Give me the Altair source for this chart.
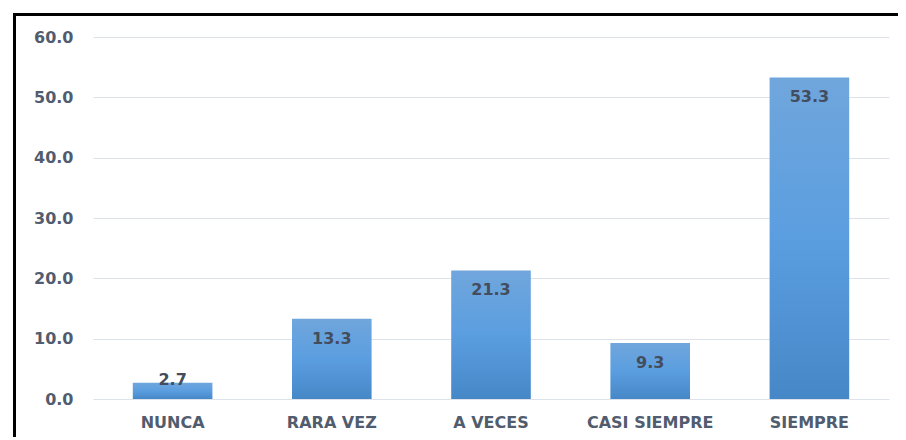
import altair as alt
import pandas as pd

categories = ["NUNCA", "RARA VEZ", "A VECES", "CASI SIEMPRE", "SIEMPRE"]
values = [2.7, 13.3, 21.3, 9.3, 53.3]
y_ticks = [0, 10, 20, 30, 40, 50, 60]

df = pd.DataFrame({"cat": categories, "v": values})

FONT = "DejaVu Sans"
AXIS_COLOR = "#515C6E"

gradient = alt.Gradient(
    gradient="linear",
    stops=[
        alt.GradientStop(color="#70A6DC", offset=0),
        alt.GradientStop(color="#5B9EE0", offset=0.5),
        alt.GradientStop(color="#4687C7", offset=1),
    ],
    x1=0, x2=0, y1=0, y2=1,
)

x = alt.X(
    "cat:N",
    sort=categories,
    title=None,
    scale=alt.Scale(paddingInner=0.5, paddingOuter=0.25),
    axis=alt.Axis(
        labelAngle=0, labelFont=FONT, labelFontSize=16, labelFontWeight="bold",
        labelColor=AXIS_COLOR, labelPadding=15, ticks=False, domain=False,
        grid=False,
    ),
)
y = alt.Y(
    "v:Q",
    title=None,
    scale=alt.Scale(domain=[0, 60], nice=False),
    axis=alt.Axis(
        values=y_ticks, format=".1f", labelFont=FONT, labelFontSize=16,
        labelFontWeight="bold", labelColor=AXIS_COLOR, labelPadding=20,
        ticks=False, domain=False, gridColor="#DEE2EA", gridWidth=1,
        minExtent=60, maxExtent=60,
    ),
)

bars = alt.Chart(df).mark_bar(color=gradient).encode(x=x, y=y)

labels = (
    alt.Chart(df)
    .transform_calculate(ly="max(datum.v, 6.5)")
    .mark_text(font=FONT, fontSize=16, fontWeight="bold", color="#434D5E",
               baseline="middle", dy=20)
    .encode(x=alt.X("cat:N", sort=categories), y=alt.Y("ly:Q"),
            text=alt.Text("v:Q", format=".1f"))
)

frame_df = pd.DataFrame({"k": [0]})
top_line = alt.Chart(frame_df).mark_rule(color="black", strokeWidth=3).encode(
    x=alt.value(-80), x2=alt.value(830), y=alt.value(-22.5)
)
left_line = alt.Chart(frame_df).mark_rule(color="black", strokeWidth=3).encode(
    x=alt.value(-78.5), y=alt.value(-24), y2=alt.value(430)
)

chart = (
    alt.layer(bars, labels, top_line, left_line)
    .properties(
        width=796, height=362,
        background="white",
        autosize=alt.AutoSizeParams(type="none"),
        padding={"left": 85, "top": 29, "right": 9, "bottom": 38},
    )
    .configure_view(stroke=None, strokeWidth=0)
)

chart.save("out.html", embed_options={"renderer": "svg", "actions": False})
